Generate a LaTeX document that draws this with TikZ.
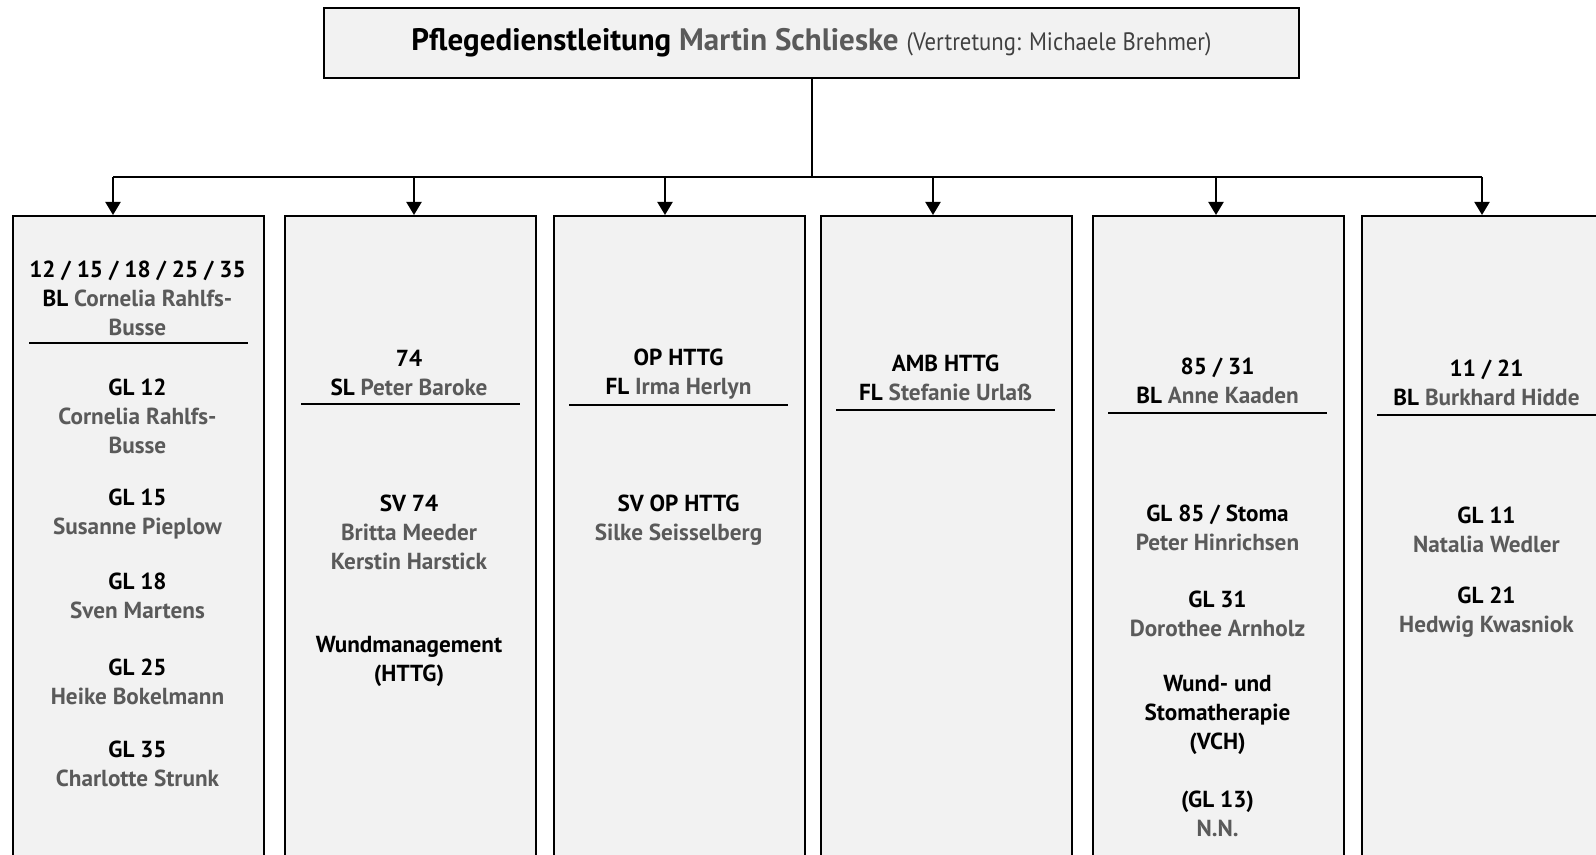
\documentclass[tikz,border=0pt]{standalone}
\usepackage{fontspec}
\setmainfont{PT Sans}
\newfontfamily\narrowfont[FakeStretch=0.9]{PT Sans}
\usetikzlibrary{arrows.meta,positioning}
\definecolor{boxgray}{HTML}{F2F2F2}
\definecolor{namegray}{HTML}{5A5A5A}
\definecolor{notegray}{HTML}{404040}
\newcommand{\nm}[1]{\textcolor{namegray}{#1}}
\begin{document}
\begin{tikzpicture}[
x=0.5pt, y=-0.5pt,
lead/.style={draw, line width=1.1pt, fill=boxgray, minimum width=487.5pt, minimum height=35pt,
  font=\bfseries\fontsize{15.5}{18}\selectfont},
column/.style={draw, line width=1pt, fill=boxgray, anchor=north west, minimum width=125.5pt, minimum height=360pt},
info/.style={align=center, inner sep=0pt, font=\bfseries\fontsize{11.6}{14.5}\selectfont},
rule/.style={line width=1pt},
link/.style={line width=1pt},
arrow/.style={link, -{Triangle[width=7.5pt,length=6.5pt]}}
]
\useasboundingbox (0,0) rectangle (1596,855);
\clip (0,0) rectangle (1596,855);

\node[lead] (pdl) at (811.5,43) {Pflegedienstleitung \nm{Martin Schlieske}
  {\narrowfont\mdseries\fontsize{12.6}{15}\selectfont\color{notegray}(Vertretung: Michaele Brehmer)}};

\node[column] (c1) at (12,215) {};
\node[column] (c2) at (284,215) {};
\node[column] (c3) at (553,215) {};
\node[column] (c4) at (820,215) {};
\node[column] (c5) at (1092,215) {};
\node[column] (c6) at (1361,215) {};

\coordinate (a1) at (113,177);
\coordinate (a2) at (414,177);
\coordinate (a3) at (665,177);
\coordinate (a4) at (933,177);
\coordinate (a5) at (1216,177);
\coordinate (a6) at (1482,177);

\draw[link] (pdl.south) -- (pdl.south |- a1);
\draw[link] (a1) -- (a6);
\draw[arrow] (a1) -- (a1 |- c1.north);
\draw[arrow] (a2) -- (a2 |- c2.north);
\draw[arrow] (a3) -- (a3 |- c3.north);
\draw[arrow] (a4) -- (a4 |- c4.north);
\draw[arrow] (a5) -- (a5 |- c5.north);
\draw[arrow] (a6) -- (a6 |- c6.north);

% 12 / 15 / 18 / 25 / 35
\node[info] (h1) at (137.5,298) {12 / 15 / 18 / 25 / 35\\BL \nm{Cornelia Rahlfs-}\\\nm{Busse}};
\draw[rule] (29,343) -- (248,343);
\node[info] (g12) at (137.5,416.5) {GL 12\\\nm{Cornelia Rahlfs-}\\\nm{Busse}};
\node[info] (g15) at (137.5,514) {GL 15\\\nm{Susanne Pieplow}};
\node[info] (g18) at (137.5,596) {GL 18\\\nm{Sven Martens}};
\node[info] (g25) at (137.5,681.5) {GL 25\\\nm{Heike Bokelmann}};
\node[info] (g35) at (137.5,763.5) {GL 35\\\nm{Charlotte Strunk}};

% 74
\node[info] (h2) at (409,372.5) {74\\SL \nm{Peter Baroke}};
\draw[rule] (301,404) -- (520,404);
\node[info] (sv74) at (409,532.5) {SV 74\\\nm{Britta Meeder}\\\nm{Kerstin Harstick}};
\node[info] (wm) at (409,661.5) {Wundmanagement\\(HTTG)};

% OP HTTG
\node[info] (h3) at (678.5,374) {OP HTTG\\FL \nm{Irma Herlyn}};
\draw[rule] (569,405) -- (788,405);
\node[info] (svop) at (678.5,520) {SV OP HTTG\\\nm{Silke Seisselberg}};

% AMB HTTG
\node[info] (h4) at (945.5,378) {AMB HTTG\\FL \nm{Stefanie Urlaß}};
\draw[rule] (836,410) -- (1055,410);

% 85 / 31
\node[info] (h5) at (1217.5,381) {85 / 31\\BL \nm{Anne Kaaden}};
\draw[rule] (1108,413) -- (1327,413);
\node[info] (g85) at (1217.5,527.5) {GL 85 / Stoma\\\nm{Peter Hinrichsen}};
\node[info] (g31) at (1217.5,614) {GL 31\\\nm{Dorothee Arnholz}};
\node[info] (wund) at (1217.5,715) {Wund- und\\Stomatherapie\\(VCH)};
\node[info] (g13) at (1217.5,813.5) {(GL 13)\\\nm{N.N.}};

% 11 / 21
\node[info] (h6) at (1486.5,383) {11 / 21\\BL \nm{Burkhard Hidde}};
\draw[rule] (1377,415) -- (1600,415);
\node[info] (g11) at (1486.5,529.5) {GL 11\\\nm{Natalia Wedler}};
\node[info] (g21) at (1486.5,612.5) {GL 21\\\nm{Hedwig Kwasniok}};

\end{tikzpicture}
\end{document}
